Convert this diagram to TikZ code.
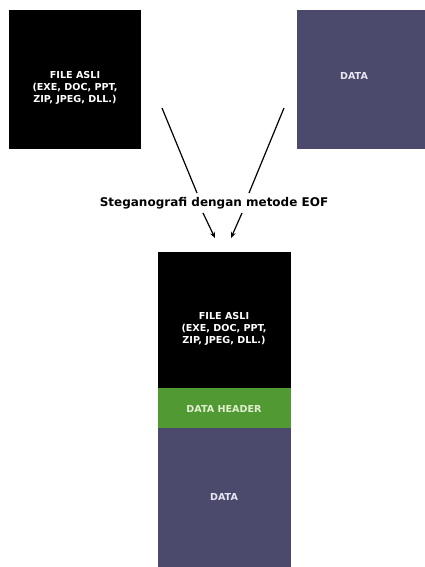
\documentclass[tikz,border=0pt]{standalone}
\usepackage{fontspec}
\setmainfont{DejaVu Sans}
\usetikzlibrary{arrows.meta}
\definecolor{dataclr}{HTML}{4B4A6C}
\definecolor{hdrclr}{HTML}{519A33}
\definecolor{hdrtxt}{HTML}{E2EED0}
\definecolor{datatxt}{HTML}{E8E6F2}
\tikzset{
  lbl/.style={text=white, font=\bfseries\fontsize{9.6}{12}\selectfont, align=center},
  conn/.style={line width=1.2pt, black},
}
\begin{document}
\begin{tikzpicture}[x=1pt,y=-1pt]
\useasboundingbox (0,0) rectangle (425,567);
% top boxes
\fill[black] (9,10) rectangle (141,149);
\node[lbl] (fa) at (75,88) {FILE ASLI\\(EXE, DOC, PPT,\\ZIP, JPEG, DLL.)};
\fill[dataclr] (297,10) rectangle (425,149);
\node[lbl, text=datatxt] (d1) at (354,76) {DATA};
% lines
\coordinate (l1) at (162,108);
\coordinate (l2) at (197,193);
\coordinate (r1) at (284,108);
\coordinate (r2) at (249,193);
\draw[conn] (l1) -- (l2);
\draw[conn] (r1) -- (r2);
\node[font=\bfseries\fontsize{12}{14}\selectfont] (st) at (214,203) {Steganografi dengan metode EOF};
\coordinate (a1) at (203,213);
\coordinate (a2) at (215,238);
\coordinate (b1) at (242,213);
\coordinate (b2) at (231,238);
\draw[conn, -{Stealth[length=6pt,width=5pt]}] (a1) -- (a2);
\draw[conn, -{Stealth[length=6pt,width=5pt]}] (b1) -- (b2);
% bottom stack
\fill[black] (158,252) rectangle (291,388);
\node[lbl] (fb) at (224,329) {FILE ASLI\\(EXE, DOC, PPT,\\ZIP, JPEG, DLL.)};
\fill[hdrclr] (158,388) rectangle (291,428);
\node[lbl, text=hdrtxt] (hd) at (224,409) {DATA HEADER};
\fill[dataclr] (158,428) rectangle (291,567);
\node[lbl, text=datatxt] (d2) at (224,497) {DATA};
\end{tikzpicture}
\end{document}
